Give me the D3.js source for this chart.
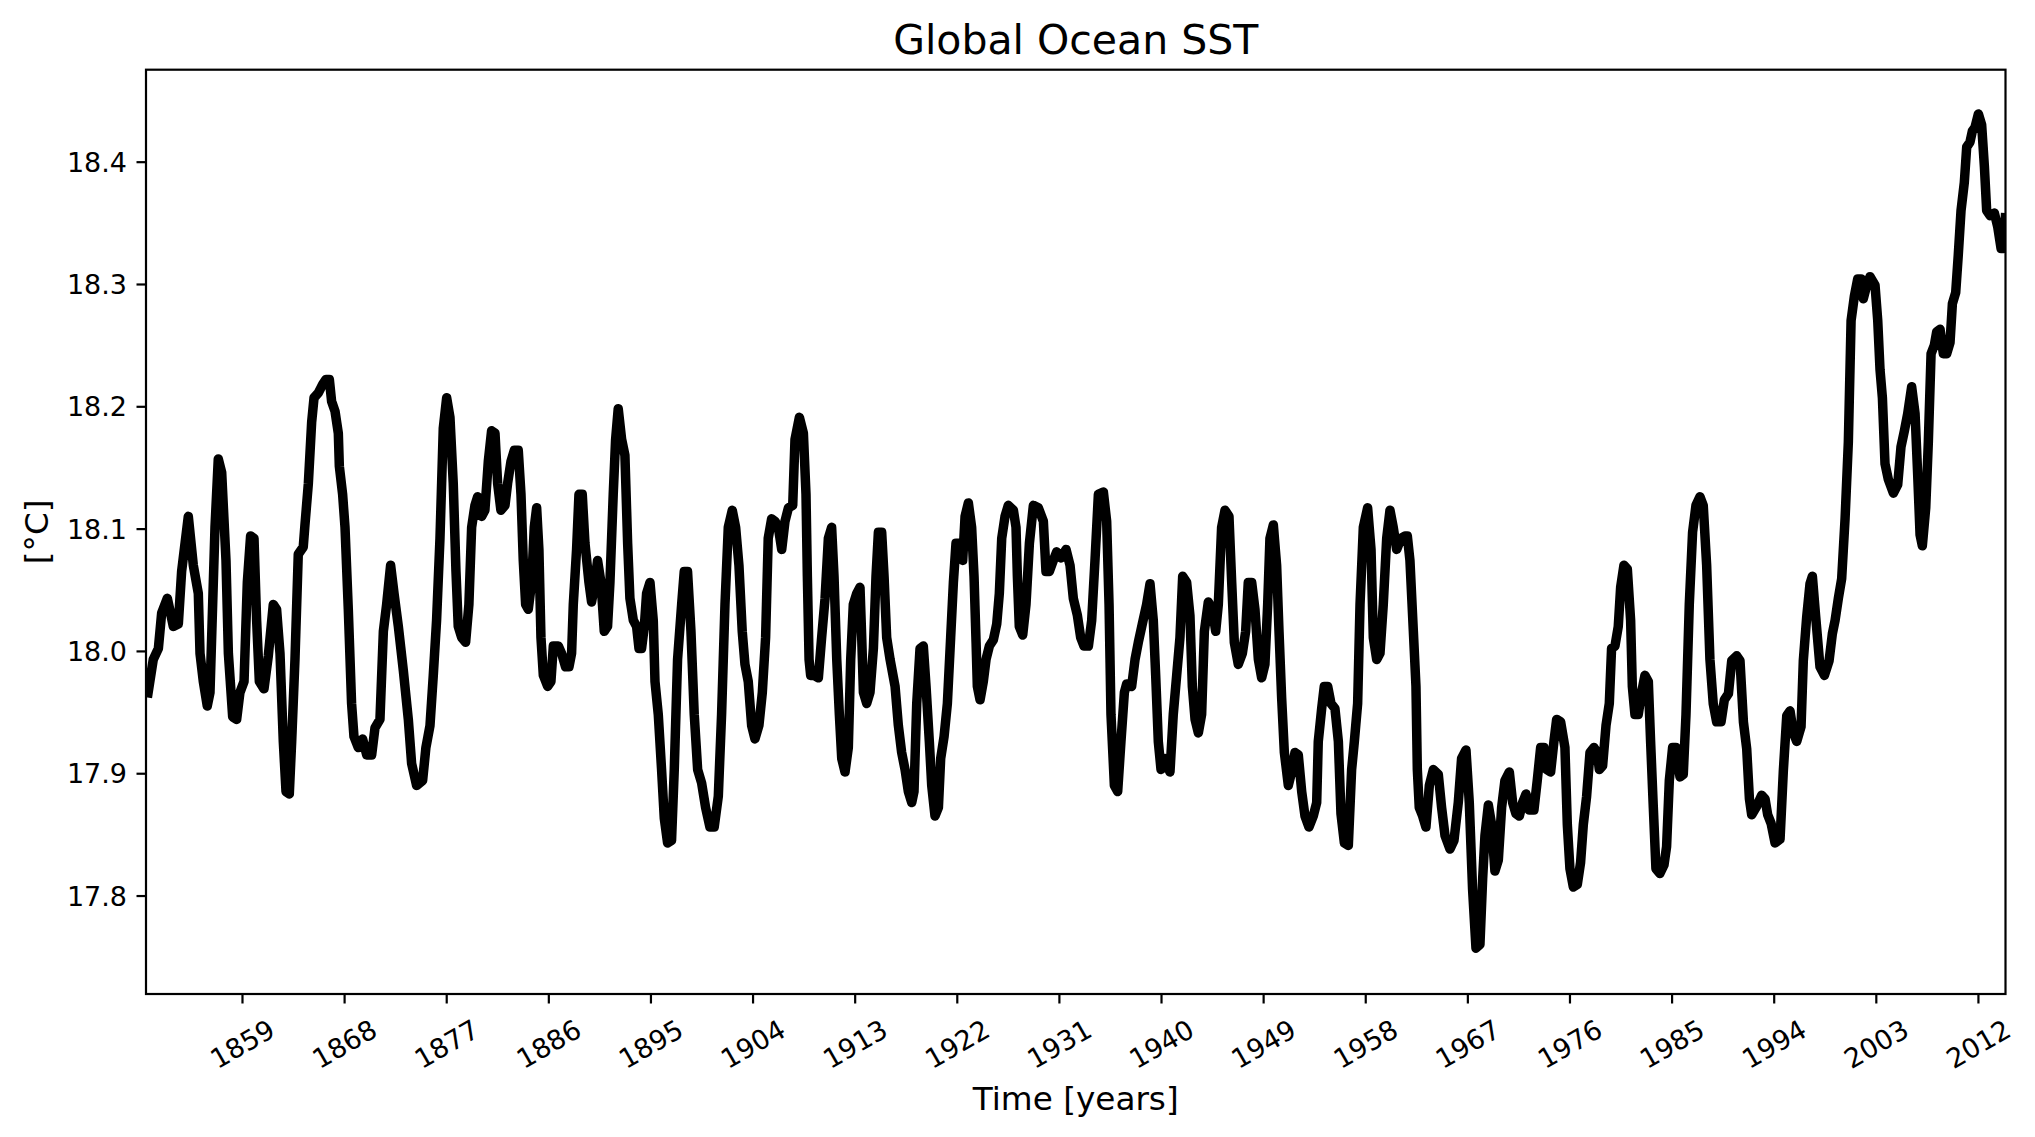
<!DOCTYPE html>
<html>
<head>
<meta charset="utf-8">
<script src="https://d3js.org/d3.v7.min.js"></script>
<style>
  body { margin: 0; background: #fff; }
  text { font-family: "DejaVu Sans", sans-serif; fill: #000; }
</style>
</head>
<body>
<svg id="chart" width="2035" height="1137"></svg>
<script>
// time axis (decimal years) and global mean SST [°C]
const years = [
  1850.66,1851.18,1851.63,1851.92,1852.42,1852.95,1853.39,1853.68,1854.27,1854.71,
  1855.15,1855.30,1855.59,1855.94,1856.18,1856.62,1856.91,1857.21,1857.59,1857.80,
  1858.18,1858.53,1858.82,1859.18,1859.47,1859.76,1860.06,1860.29,1860.53,1860.94,
  1861.32,1861.76,1862.05,1862.35,1862.64,1862.88,1863.17,1863.38,1863.67,1863.96,
  1864.40,1864.55,1864.85,1865.14,1865.35,1865.73,1866.11,1866.40,1866.70,1866.90,
  1867.20,1867.49,1867.58,1867.87,1868.08,1868.37,1868.66,1868.87,1869.25,1869.63,
  1869.99,1870.43,1870.72,1871.16,1871.46,1871.75,1872.10,1872.40,1872.78,1873.22,
  1873.66,1873.95,1874.39,1874.92,1875.21,1875.57,1875.86,1876.15,1876.45,1876.74,
  1877.04,1877.33,1877.62,1877.86,1878.06,1878.36,1878.71,1879.00,1879.24,1879.53,
  1879.77,1880.12,1880.41,1880.71,1881.00,1881.30,1881.53,1881.82,1882.18,1882.41,
  1882.71,1883.00,1883.35,1883.59,1883.79,1884.00,1884.23,1884.53,1884.76,1884.97,
  1885.17,1885.35,1885.56,1885.94,1886.23,1886.44,1886.88,1887.17,1887.52,1887.82,
  1888.05,1888.20,1888.49,1888.70,1888.99,1889.23,1889.58,1889.81,1890.05,1890.34,
  1890.64,1890.93,1891.22,1891.43,1891.72,1891.93,1892.16,1892.46,1892.75,1892.99,
  1893.19,1893.49,1893.78,1893.99,1894.22,1894.46,1894.66,1894.96,1895.25,1895.40,
  1895.69,1895.98,1896.22,1896.51,1896.86,1897.10,1897.39,1897.75,1897.98,1898.27,
  1898.57,1898.86,1899.16,1899.51,1899.86,1900.24,1900.62,1900.98,1901.27,1901.57,
  1901.86,1902.21,1902.51,1902.80,1903.09,1903.33,1903.62,1903.92,1904.21,1904.56,
  1904.86,1905.15,1905.38,1905.68,1905.98,1906.27,1906.57,1906.86,1907.16,1907.54,
  1907.74,1908.13,1908.48,1908.71,1908.83,1908.98,1909.12,1909.42,1909.80,1910.09,
  1910.39,1910.68,1910.97,1911.18,1911.42,1911.65,1911.86,1912.15,1912.44,1912.65,
  1912.88,1913.18,1913.47,1913.62,1913.77,1914.06,1914.35,1914.65,1914.88,1915.09,
  1915.38,1915.59,1915.82,1916.12,1916.56,1916.85,1917.14,1917.44,1917.73,1918.03,
  1918.23,1918.47,1918.76,1919.05,1919.29,1919.58,1919.79,1920.08,1920.38,1920.58,
  1920.88,1921.17,1921.46,1921.70,1921.93,1922.23,1922.52,1922.73,1923.02,1923.31,
  1923.52,1923.70,1923.81,1924.05,1924.34,1924.58,1924.87,1925.22,1925.52,1925.75,
  1925.96,1926.25,1926.54,1926.99,1927.22,1927.34,1927.51,1927.81,1928.10,1928.40,
  1928.75,1929.19,1929.63,1929.86,1930.16,1930.51,1930.80,1931.16,1931.63,1931.98,
  1932.27,1932.63,1932.92,1933.21,1933.60,1933.89,1934.18,1934.48,1934.92,1935.21,
  1935.42,1935.59,1935.89,1936.18,1936.47,1936.77,1936.97,1937.41,1937.71,1938.00,
  1938.35,1938.73,1939.03,1939.32,1939.53,1939.76,1940.00,1940.35,1940.79,1941.08,
  1941.38,1941.67,1941.91,1942.26,1942.55,1942.76,1943.00,1943.29,1943.58,1943.82,
  1944.17,1944.52,1944.82,1945.05,1945.34,1945.64,1945.99,1946.23,1946.46,1946.81,
  1947.17,1947.46,1947.69,1947.99,1948.28,1948.58,1948.87,1949.16,1949.40,1949.60,
  1949.90,1950.19,1950.40,1950.63,1950.87,1951.22,1951.51,1951.81,1952.10,1952.40,
  1952.69,1953.04,1953.42,1953.72,1953.86,1954.16,1954.39,1954.69,1954.98,1955.33,
  1955.63,1955.86,1956.16,1956.51,1956.80,1957.04,1957.33,1957.54,1957.83,1958.21,
  1958.51,1958.71,1959.01,1959.30,1959.59,1959.89,1960.18,1960.47,1960.77,1961.15,
  1961.50,1961.71,1961.94,1962.24,1962.47,1962.59,1962.76,1963.06,1963.35,1963.65,
  1964.00,1964.44,1964.73,1965.03,1965.47,1965.82,1966.20,1966.49,1966.88,1967.17,
  1967.46,1967.76,1968.11,1968.35,1968.55,1968.85,1969.14,1969.43,1969.73,1970.02,
  1970.31,1970.70,1970.99,1971.28,1971.58,1971.87,1972.17,1972.46,1972.87,1973.16,
  1973.46,1973.75,1973.99,1974.34,1974.63,1974.87,1975.22,1975.60,1975.81,1976.04,
  1976.34,1976.69,1976.98,1977.22,1977.51,1977.81,1978.16,1978.45,1978.63,1978.92,
  1979.22,1979.51,1979.71,1980.01,1980.30,1980.51,1980.80,1981.10,1981.39,1981.54,
  1981.77,1982.06,1982.36,1982.65,1982.95,1983.15,1983.39,1983.62,1983.97,1984.33,
  1984.56,1984.80,1985.09,1985.38,1985.74,1986.03,1986.27,1986.56,1986.85,1987.15,
  1987.50,1987.79,1988.09,1988.38,1988.67,1988.97,1989.36,1989.65,1990.01,1990.30,
  1990.74,1991.03,1991.33,1991.62,1991.86,1992.06,1992.50,1992.94,1993.24,1993.47,
  1993.77,1994.12,1994.56,1994.85,1995.15,1995.44,1995.73,1996.03,1996.41,1996.61,
  1996.91,1997.20,1997.41,1997.70,1998.08,1998.47,1998.88,1999.17,1999.41,1999.70,
  1999.99,2000.29,2000.58,2000.82,2001.11,2001.40,2001.70,2001.90,2002.20,2002.49,
  2002.93,2003.17,2003.37,2003.58,2003.81,2004.11,2004.55,2004.93,2005.22,2005.52,
  2005.81,2006.16,2006.46,2006.69,2006.90,2007.10,2007.40,2007.63,2007.87,2008.16,
  2008.37,2008.66,2008.95,2009.25,2009.54,2009.75,2010.04,2010.27,2010.51,2010.80,
  2011.01,2011.30,2011.51,2011.74,2012.04,2012.33,2012.57,2012.77,2013.07,2013.45,
  2013.74,2014.04,2014.27,2014.44
];
const sst = [
  17.962,17.993,18.002,18.031,18.043,18.020,18.022,18.065,18.110,18.070,
  18.047,17.998,17.975,17.955,17.966,18.101,18.157,18.146,18.074,17.998,
  17.946,17.944,17.966,17.975,18.056,18.094,18.092,18.025,17.975,17.969,
  17.996,18.038,18.034,17.998,17.926,17.885,17.883,17.926,17.993,18.079,
  18.085,18.103,18.137,18.187,18.207,18.211,18.218,18.222,18.222,18.204,
  18.196,18.178,18.151,18.128,18.101,18.034,17.957,17.930,17.921,17.928,
  17.915,17.915,17.937,17.944,18.016,18.038,18.070,18.047,18.020,17.984,
  17.944,17.908,17.890,17.894,17.921,17.939,17.980,18.025,18.092,18.182,
  18.207,18.191,18.137,18.065,18.020,18.011,18.007,18.038,18.101,18.119,
  18.126,18.110,18.115,18.155,18.180,18.178,18.137,18.115,18.119,18.137,
  18.155,18.164,18.164,18.128,18.074,18.038,18.034,18.056,18.101,18.117,
  18.083,18.011,17.980,17.971,17.975,18.004,18.004,17.998,17.987,17.987,
  17.998,18.038,18.083,18.128,18.128,18.088,18.056,18.040,18.052,18.074,
  18.056,18.016,18.020,18.056,18.128,18.173,18.198,18.173,18.160,18.088,
  18.043,18.025,18.020,18.002,18.002,18.020,18.047,18.056,18.025,17.975,
  17.948,17.903,17.863,17.843,17.845,17.903,17.993,18.038,18.065,18.065,
  18.016,17.948,17.903,17.892,17.872,17.856,17.856,17.881,17.948,18.038,
  18.101,18.115,18.101,18.070,18.016,17.989,17.975,17.939,17.928,17.939,
  17.966,18.011,18.092,18.108,18.106,18.101,18.083,18.106,18.117,18.119,
  18.173,18.191,18.178,18.128,18.061,17.993,17.980,17.980,17.978,18.011,
  18.043,18.092,18.101,18.061,17.993,17.948,17.912,17.901,17.921,17.993,
  18.038,18.047,18.052,18.011,17.966,17.957,17.966,18.002,18.061,18.097,
  18.097,18.061,18.011,17.993,17.971,17.939,17.917,17.903,17.885,17.876,
  17.885,17.957,18.002,18.004,17.971,17.926,17.890,17.865,17.872,17.912,
  17.930,17.957,18.011,18.056,18.088,18.088,18.074,18.110,18.121,18.101,
  18.061,18.007,17.971,17.960,17.975,17.993,18.004,18.009,18.022,18.047,
  18.092,18.110,18.119,18.115,18.101,18.061,18.020,18.013,18.038,18.088,
  18.119,18.117,18.106,18.065,18.065,18.074,18.081,18.076,18.083,18.070,
  18.043,18.029,18.011,18.004,18.004,18.025,18.074,18.128,18.130,18.106,
  18.038,17.948,17.890,17.885,17.926,17.966,17.973,17.971,17.993,18.007,
  18.022,18.038,18.055,18.025,17.980,17.926,17.903,17.912,17.901,17.948,
  17.980,18.011,18.061,18.056,18.029,17.971,17.944,17.933,17.948,18.016,
  18.040,18.034,18.016,18.038,18.101,18.115,18.110,18.056,18.007,17.989,
  17.998,18.016,18.056,18.056,18.034,17.993,17.978,17.989,18.038,18.092,
  18.103,18.070,18.016,17.962,17.917,17.890,17.901,17.917,17.915,17.885,
  17.865,17.856,17.865,17.876,17.926,17.953,17.971,17.971,17.957,17.953,
  17.926,17.867,17.843,17.841,17.903,17.926,17.957,18.038,18.101,18.117,
  18.083,18.011,17.993,17.998,18.038,18.092,18.115,18.101,18.083,18.092,
  18.094,18.094,18.074,18.016,17.971,17.903,17.872,17.865,17.856,17.890,
  17.903,17.899,17.872,17.849,17.838,17.845,17.876,17.912,17.919,17.876,
  17.805,17.757,17.760,17.814,17.849,17.874,17.858,17.820,17.829,17.872,
  17.894,17.901,17.876,17.867,17.865,17.876,17.883,17.870,17.870,17.894,
  17.921,17.921,17.903,17.901,17.926,17.944,17.942,17.921,17.858,17.822,
  17.807,17.809,17.827,17.858,17.881,17.917,17.921,17.917,17.903,17.906,
  17.939,17.957,18.002,18.004,18.020,18.052,18.070,18.067,18.025,17.971,
  17.948,17.948,17.966,17.980,17.975,17.926,17.872,17.822,17.818,17.825,
  17.840,17.894,17.921,17.921,17.897,17.899,17.948,18.038,18.097,18.119,
  18.126,18.119,18.070,17.993,17.957,17.942,17.942,17.960,17.965,17.992,
  17.996,17.992,17.942,17.920,17.879,17.866,17.873,17.882,17.879,17.866,
  17.859,17.843,17.846,17.902,17.947,17.951,17.933,17.926,17.938,17.992,
  18.028,18.055,18.061,18.028,17.987,17.980,17.992,18.014,18.025,18.043,
  18.059,18.108,18.171,18.270,18.290,18.304,18.304,18.288,18.299,18.306,
  18.299,18.270,18.230,18.207,18.153,18.140,18.129,18.136,18.167,18.180,
  18.194,18.216,18.194,18.144,18.095,18.086,18.117,18.171,18.243,18.250,
  18.261,18.263,18.243,18.243,18.252,18.284,18.293,18.324,18.360,18.383,
  18.412,18.416,18.425,18.428,18.439,18.430,18.396,18.360,18.356,18.358,
  18.347,18.329,18.329,18.358
];
const yTicks = [17.8, 17.9, 18.0, 18.1, 18.2, 18.3, 18.4];
const xTicks = [1859, 1868, 1877, 1886, 1895, 1904, 1913, 1922, 1931, 1940,
                1949, 1958, 1967, 1976, 1985, 1994, 2003, 2012];

const plot = {left: 146, right: 2005.5, top: 69.7, bottom: 994};
const svg = d3.select('#chart');

const x = d3.scaleLinear().domain([1850.54, 2014.43]).range([plot.left, plot.right]);
const y = d3.scaleLinear().domain([17.7195, 18.4752]).range([plot.bottom, plot.top]);

const data = years.map((t, i) => ({t: t, v: sst[i]}));

svg.append('clipPath').attr('id', 'clip')
  .append('rect')
  .attr('x', plot.left).attr('y', plot.top)
  .attr('width', plot.right - plot.left).attr('height', plot.bottom - plot.top);

const line = d3.line().x(d => x(d.t)).y(d => y(d.v));

svg.append('path')
  .datum(data)
  .attr('clip-path', 'url(#clip)')
  .attr('d', line)
  .attr('fill', 'none')
  .attr('stroke', '#000')
  .attr('stroke-width', 9.5)
  .attr('stroke-linejoin', 'round')
  .attr('stroke-linecap', 'butt');

// y axis
const gy = svg.append('g')
  .attr('transform', `translate(${plot.left},0)`)
  .call(d3.axisLeft(y).tickValues(yTicks).tickFormat(d3.format('.1f'))
    .tickSize(9.5).tickPadding(9.5).tickSizeOuter(0));
gy.select('.domain').remove();
gy.selectAll('line').attr('stroke-width', 2.2);
gy.selectAll('text').attr('font-size', 27).attr('font-family', 'DejaVu Sans')
  .attr('dy', null).attr('dominant-baseline', 'central');

// x axis, labels rotated 30 degrees
const gx = svg.append('g')
  .attr('transform', `translate(0,${plot.bottom})`)
  .call(d3.axisBottom(x).tickValues(xTicks).tickFormat(d3.format('d'))
    .tickSize(9.5).tickSizeOuter(0));
gx.select('.domain').remove();
gx.selectAll('line').attr('stroke-width', 2.2);
gx.selectAll('text')
  .attr('font-size', 27).attr('font-family', 'DejaVu Sans')
  .attr('y', null).attr('dy', null)
  .attr('text-anchor', 'middle')
  .attr('dominant-baseline', 'central')
  .attr('transform', 'translate(0,50) rotate(-30)');

// frame
svg.append('rect')
  .attr('x', plot.left).attr('y', plot.top)
  .attr('width', plot.right - plot.left).attr('height', plot.bottom - plot.top)
  .attr('fill', 'none').attr('stroke', '#000').attr('stroke-width', 2.2);

svg.append('text')
  .attr('x', (plot.left + plot.right) / 2).attr('y', 54)
  .attr('text-anchor', 'middle').attr('font-size', 41)
  .text('Global Ocean SST');

svg.append('text')
  .attr('x', (plot.left + plot.right) / 2).attr('y', 1110)
  .attr('text-anchor', 'middle').attr('font-size', 32.7)
  .text('Time [years]');

svg.append('text')
  .attr('transform', `translate(48,${(plot.top + plot.bottom) / 2}) rotate(-90)`)
  .attr('text-anchor', 'middle').attr('font-size', 32.7)
  .text('[°C]');
</script>
</body>
</html>
